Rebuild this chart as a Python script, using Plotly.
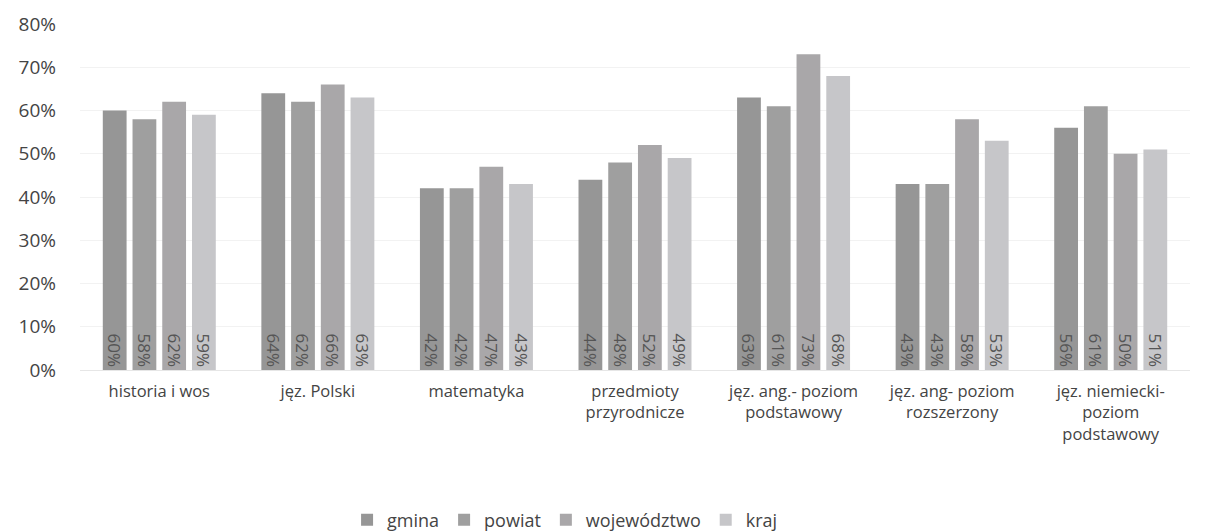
import plotly.graph_objects as go

categories = ["historia i wos", "jęz. Polski", "matematyka", "przedmioty<br>przyrodnicze",
              "jęz. ang.- poziom<br>podstawowy", "jęz. ang- poziom<br>rozszerzony",
              "jęz. niemiecki-<br>poziom<br>podstawowy"]
series_names = ["gmina", "powiat", "województwo", "kraj"]
gmina = [60, 64, 42, 44, 63, 43, 56]
powiat = [58, 62, 42, 48, 61, 43, 61]
wojewodztwo = [62, 66, 47, 52, 73, 58, 50]
kraj = [59, 63, 43, 49, 68, 53, 51]
y_ticks = [0, 10, 20, 30, 40, 50, 60, 70, 80]

colors = ["#969696", "#9f9f9f", "#a9a7a9", "#c6c6c9"]
data = [gmina, powiat, wojewodztwo, kraj]

fig = go.Figure()
for name, vals, col in zip(series_names, data, colors):
    fig.add_trace(go.Bar(
        x=categories, y=vals, name=name,
        marker=dict(color=col, line=dict(width=0)),
        text=[f"{v}%" for v in vals],
        textposition="inside", insidetextanchor="start", textangle=90,
        constraintext="none",
        textfont=dict(family="Open Sans", size=17, color="#555555"),
    ))

fig.update_layout(
    width=1213, height=531,
    margin=dict(l=72, r=31, t=16, b=169, autoexpand=False),
    paper_bgcolor="white", plot_bgcolor="white",
    barmode="group", bargap=0.25, bargroupgap=0.2,
    font=dict(family="Open Sans", size=17, color="#444444"),
    legend=dict(orientation="h", x=0.437, xanchor="center", y=-0.434, yanchor="middle",
                font=dict(family="Open Sans", size=18, color="#444444"),
                itemwidth=30, traceorder="normal"),
)
fig.update_yaxes(range=[0, 80], tickvals=y_ticks, ticktext=[f"{v}%" for v in y_ticks],
                 showgrid=True, gridcolor="#f2f2f2", zeroline=False, showline=False,
                 ticklabelstandoff=23, tickfont=dict(family="Open Sans", size=19, color="#444444"))
fig.update_xaxes(showline=True, linecolor="#e6e6e6", showgrid=False, tickangle=0,
                 automargin=False,
                 tickfont=dict(family="Open Sans", size=16.5, color="#444444"),
                 ticklabelstandoff=6)

fig.write_html("out.html")
